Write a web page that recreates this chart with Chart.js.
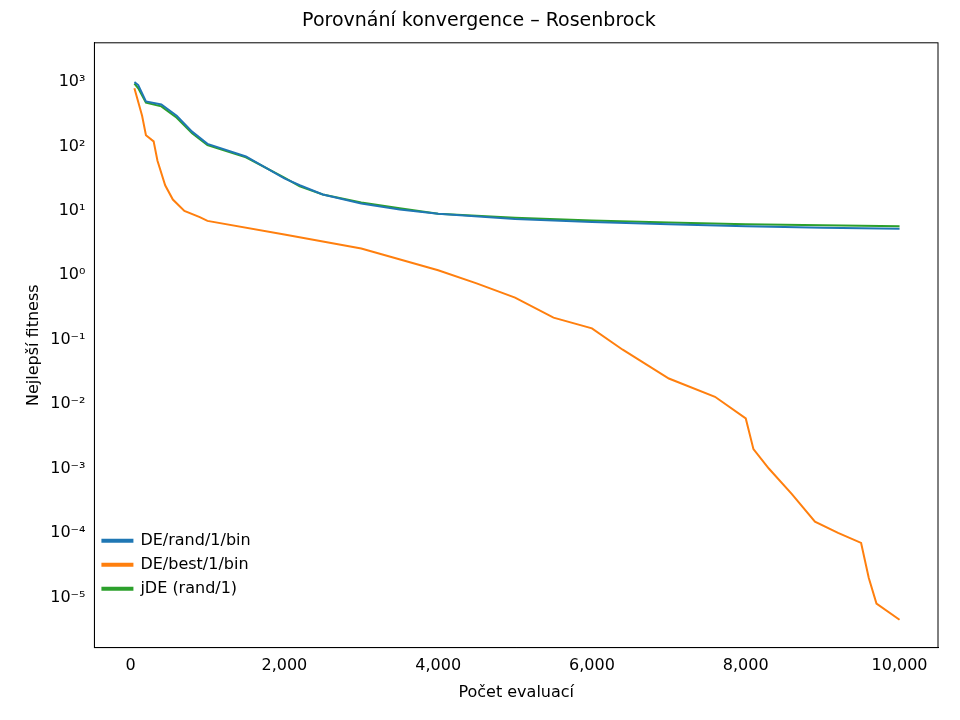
<!DOCTYPE html>
<html>
<head>
<meta charset="utf-8">
<script src="https://cdn.jsdelivr.net/npm/chart.js@4"></script>
<style>body{margin:0;background:#fff}</style>
</head>
<body>
<canvas id="c" width="960" height="720"></canvas>
<script>
const randX = [50, 100, 200, 400, 600, 800, 1000, 1500, 2000, 2200, 2500, 3000, 3500, 4000, 5000, 6000, 7000, 8000, 9000, 10000];
const randY = [1000, 900, 500, 450, 300, 170, 110, 70, 32, 25, 18, 13, 10.5, 9, 7.5, 6.7, 6.2, 5.8, 5.5, 5.3];
const jdeX = [50, 100, 200, 400, 600, 800, 1000, 1500, 2000, 2200, 2500, 3000, 3500, 4000, 5000, 6000, 7000, 8000, 9000, 10000];
const jdeY = [950, 800, 480, 420, 280, 160, 105, 68, 33, 24, 18, 13.5, 11, 9, 7.8, 7.1, 6.6, 6.2, 6.0, 5.8];
const bestX = [50, 150, 200, 300, 350, 450, 550, 700, 900, 1000, 2000, 3000, 4000, 4500, 5000, 5500, 6000, 6400, 7000, 7600, 8000, 8100, 8300, 8600, 8900, 9200, 9500, 9600, 9700, 10000];
const bestY = [800, 300, 150, 120, 60, 25, 15, 10, 8, 7, 4.3, 2.6, 1.2, 0.75, 0.45, 0.22, 0.15, 0.07, 0.025, 0.013, 0.006, 0.002, 0.001, 0.0004, 0.00015, 0.0001, 0.00007, 0.00002, 0.000008, 0.0000045];
const yTicks = [-5, -4, -3, -2, -1, 0, 1, 2, 3];
const xTicks = [0, 2000, 4000, 6000, 8000, 10000];

const sup = {'-': '⁻', '0': '⁰', '1': '¹', '2': '²', '3': '³', '4': '⁴', '5': '⁵'};
const pow = n => '10' + String(n).split('').map(c => sup[c]).join('');
const pts = (xs, ys) => xs.map((x, i) => ({x: x, y: ys[i]}));

const frame = {
  id: 'frame',
  afterDraw(chart) {
    const a = chart.chartArea, ctx = chart.ctx;
    ctx.save();
    ctx.strokeStyle = '#000';
    ctx.lineWidth = 1;
    ctx.strokeRect(a.left, a.top, a.right - a.left, a.bottom - a.top);
    ctx.restore();
  }
};

const font = {family: 'DejaVu Sans', size: 16};
new Chart(document.getElementById('c'), {
  type: 'line',
  data: {
    datasets: [
      {label: 'DE/rand/1/bin', data: pts(randX, randY), borderColor: '#1f77b4', backgroundColor: '#1f77b4'},
      {label: 'DE/best/1/bin', data: pts(bestX, bestY), borderColor: '#ff7f0e', backgroundColor: '#ff7f0e'},
      {label: 'jDE (rand/1)', data: pts(jdeX, jdeY), borderColor: '#2ca02c', backgroundColor: '#2ca02c'}
    ]
  },
  plugins: [frame],
  options: {
    responsive: false,
    animation: false,
    layout: {padding: {left: 20, right: 22, top: 10, bottom: 14}},
    elements: {point: {radius: 0}, line: {borderWidth: 2, tension: 0}},
    plugins: {
      title: {display: true, text: 'Porovnání konvergence – Rosenbrock', color: '#000', font: {family: 'DejaVu Sans', size: 19, weight: 'normal'}, padding: {bottom: 10}},
      legend: {
        position: 'chartArea', align: 'end',
        labels: {color: '#000', font: font, boxWidth: 30, boxHeight: 2, padding: 8}
      },
      tooltip: {enabled: false}
    },
    scales: {
      x: {
        type: 'linear', min: -470, max: 10500,
        afterBuildTicks: s => { s.ticks = xTicks.map(v => ({value: v})); },
        grid: {display: false, drawTicks: true, tickLength: 6, tickColor: '#000'},
        border: {color: '#000'},
        ticks: {color: '#000', font: font},
        title: {display: true, text: 'Počet evaluací', color: '#000', font: font}
      },
      y: {
        type: 'logarithmic', min: Math.pow(10, -5.78), max: Math.pow(10, 3.61),
        afterBuildTicks: s => { s.ticks = yTicks.map(n => ({value: Math.pow(10, n)})); },
        grid: {display: false, drawTicks: true, tickLength: 6, tickColor: '#000'},
        border: {color: '#000'},
        ticks: {color: '#000', font: font, callback: v => pow(Math.round(Math.log10(v)))},
        title: {display: true, text: 'Nejlepší fitness', color: '#000', font: font}
      }
    }
  }
});
</script>
</body>
</html>
